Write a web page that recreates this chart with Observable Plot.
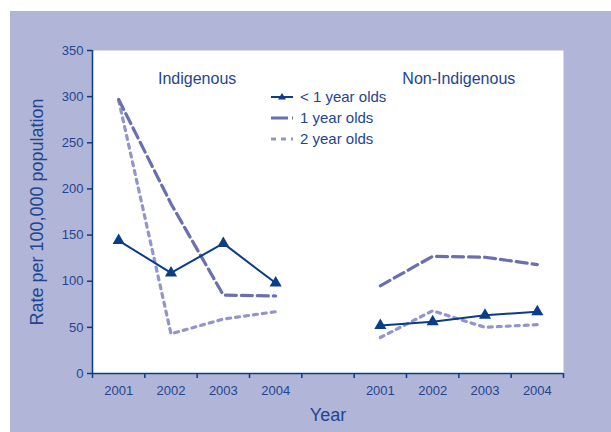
<!DOCTYPE html>
<html>
<head>
<meta charset="utf-8">
<script src="https://cdn.jsdelivr.net/npm/d3@7"></script>
<script src="https://cdn.jsdelivr.net/npm/@observablehq/plot@0.6"></script>
<style>
  html, body { margin: 0; padding: 0; background: #ffffff; }
  #wrap { position: relative; width: 611px; height: 432px; overflow: hidden; font-family: "Liberation Sans", Arial, sans-serif; }
  #bg { position: absolute; left: 10px; top: 11px; right: 0; bottom: 0; background: #b1b5d7; }
  #chart { position: absolute; left: 0; top: 0; }
  #legend { position: absolute; left: 270px; top: 86px; color: #1f4590; font-size: 15px; }
  #legend .row { display: flex; align-items: center; height: 21px; }
  #legend svg { display: block; margin-right: 4px; }
</style>
</head>
<body>
<div id="wrap">
  <div id="bg"></div>
  <div id="chart"></div>
  <div id="legend"></div>
</div>
<script>
// ---- data ----
const years = ["2001", "2002", "2003", "2004"];
const groups = ["Indigenous", "Non-Indigenous"];
const seriesNames = ["< 1 year olds", "1 year olds", "2 year olds"];

const under1Indigenous    = [144, 109, 141, 98];
const under1NonIndigenous = [52, 56, 63, 67];
const age1Indigenous      = [297, 184, 85, 84];
const age1NonIndigenous   = [95, 127, 126, 118];
const age2Indigenous      = [296, 43, 59, 67];
const age2NonIndigenous   = [39, 68, 50, 53];

const yTicks = [0, 50, 100, 150, 200, 250, 300, 350];

// ---- styles ----
const navy = "#0b3c87";
const textColor = "#1f4590";
const dashColor = "#6a6fb0";
const dotColor = "#9195cb";

// slot layout: 4 Indigenous years, one empty slot, 4 Non-Indigenous years
const groupOffset = {"Indigenous": 0, "Non-Indigenous": 5};
const slotOf = (group, i) => groupOffset[group] + i + 0.5;

function rows(series, group, values) {
  return values.map((v, i) => ({series, group, year: years[i], slot: slotOf(group, i), value: v}));
}
const under1 = [...rows(seriesNames[0], groups[0], under1Indigenous), ...rows(seriesNames[0], groups[1], under1NonIndigenous)];
const age1 = [...rows(seriesNames[1], groups[0], age1Indigenous), ...rows(seriesNames[1], groups[1], age1NonIndigenous)];
const age2 = [...rows(seriesNames[2], groups[0], age2Indigenous), ...rows(seriesNames[2], groups[1], age2NonIndigenous)];

const centers = under1.map(d => d.slot);
const yearBySlot = new Map(under1.map(d => [d.slot, d.year]));
const boundaries = d3.range(0, 10);
const groupLabels = groups.map(g => ({group: g, slot: groupOffset[g] + 2}));

const chart = Plot.plot({
  width: 611,
  height: 432,
  marginLeft: 92,
  marginRight: 48,
  marginTop: 50,
  marginBottom: 59,
  style: {background: "transparent", fontFamily: "Liberation Sans, Arial, sans-serif", color: textColor},
  x: {domain: [0, 9], axis: null},
  y: {domain: [0, 350], axis: null},
  marks: [
    Plot.frame({fill: "white", stroke: null}),
    Plot.axisY({ticks: yTicks, tickSize: 5, tickPadding: 4, stroke: navy, strokeWidth: 1.5, fontSize: 13, label: null, tickFormat: d => String(d)}),
    Plot.axisX({ticks: boundaries, tickSize: 5, stroke: navy, strokeWidth: 1.5, tickFormat: () => "", label: null}),
    Plot.axisX({ticks: centers, tickSize: 0, tickPadding: 12, fontSize: 13, label: null, tickFormat: s => yearBySlot.get(s)}),
    Plot.ruleY([0], {stroke: navy, strokeWidth: 1.5}),
    Plot.ruleX([0], {stroke: navy, strokeWidth: 1.5}),
    Plot.line(age2, {x: "slot", y: "value", z: "group", stroke: dotColor, strokeWidth: 3.2, strokeDasharray: "4,5"}),
    Plot.line(age1, {x: "slot", y: "value", z: "group", stroke: dashColor, strokeWidth: 3.2, strokeDasharray: "11,5"}),
    Plot.line(under1, {x: "slot", y: "value", z: "group", stroke: navy, strokeWidth: 2}),
    Plot.dot(under1, {x: "slot", y: "value", symbol: "triangle", r: 4.5, fill: navy, stroke: null}),
    Plot.text(groupLabels, {x: "slot", text: "group", frameAnchor: "top", dy: 22, fontSize: 16, fill: textColor}),
    Plot.text(["Rate per 100,000 population"], {frameAnchor: "left", dx: -55, rotate: -90, textAnchor: "middle", lineAnchor: "middle", fontSize: 18, fill: textColor}),
    Plot.text(["Year"], {frameAnchor: "bottom", dy: 47, fontSize: 18, fill: textColor})
  ]
});
document.getElementById("chart").appendChild(chart);

// ---- legend ----
const legendSwatches = [
  `<svg width="26" height="12"><line x1="1" y1="6" x2="23" y2="6" stroke="${navy}" stroke-width="2"/><path d="M12,2 L16,8.5 L8,8.5 Z" fill="${navy}"/></svg>`,
  `<svg width="26" height="12"><line x1="1" y1="6" x2="23" y2="6" stroke="${dashColor}" stroke-width="3" stroke-dasharray="17,4"/></svg>`,
  `<svg width="26" height="12"><line x1="1" y1="6" x2="23" y2="6" stroke="${dotColor}" stroke-width="3" stroke-dasharray="5,5"/></svg>`
];
const legend = document.getElementById("legend");
seriesNames.forEach((name, i) => {
  const row = document.createElement("div");
  row.className = "row";
  row.innerHTML = legendSwatches[i] + `<span>${name}</span>`;
  legend.appendChild(row);
});
</script>
</body>
</html>
